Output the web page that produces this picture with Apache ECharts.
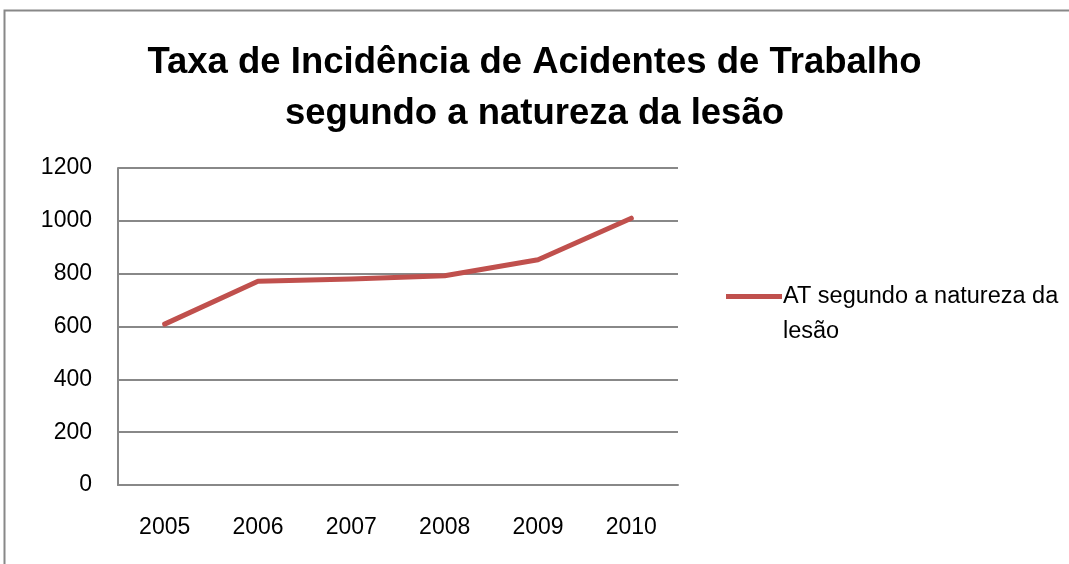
<!DOCTYPE html>
<html>
<head>
<meta charset="utf-8">
<script src="https://cdn.jsdelivr.net/npm/echarts@6/dist/echarts.min.js"></script>
<style>
html,body{margin:0;padding:0;background:#fff;}
#chart{width:1069px;height:564px;}
</style>
</head>
<body>
<div id="chart"></div>
<script>
const titleText = 'Taxa de Incidência de Acidentes de Trabalho\nsegundo a natureza da lesão';
const categories = ['2005', '2006', '2007', '2008', '2009', '2010'];
const seriesName = 'AT segundo a natureza da lesão';
const values = [609, 771, 780, 792, 853, 1010];
const yTicks = { min: 0, max: 1200, interval: 200 };

const chart = echarts.init(document.getElementById('chart'), null, { renderer: 'canvas' });
const font = 'Liberation Sans';
chart.setOption({
  backgroundColor: '#ffffff',
  animation: false,
  graphic: [{
    type: 'rect',
    shape: { x: 4.5, y: 10.5, width: 1100, height: 600 },
    style: { fill: 'none', stroke: '#888888', lineWidth: 2 },
    silent: true
  }],
  title: {
    text: titleText,
    left: 'center',
    top: 32,
    textStyle: { fontFamily: font, fontWeight: 'bold', fontSize: 36.5, lineHeight: 51, color: '#000' }
  },
  legend: {
    orient: 'vertical',
    left: 721,
    top: 239,
    itemWidth: 56,
    itemHeight: 5,
    itemGap: 0,
    icon: 'rect',
    textStyle: { fontFamily: font, fontSize: 23.5, lineHeight: 35, color: '#000', padding: [0,0,0,-4] },
    formatter: function (name) {
      const i = name.lastIndexOf(' ');
      return '\n' + name.slice(0, i) + '\n' + name.slice(i + 1);
    },
    data: [seriesName]
  },
  grid: { left: 118, right: 391, top: 168, bottom: 79 },
  xAxis: {
    type: 'category',
    data: categories,
    boundaryGap: true,
    axisLine: { show: true, lineStyle: { color: '#888888', width: 2 } },
    axisTick: { show: false },
    axisLabel: { fontFamily: font, fontSize: 23, color: '#000', margin: 31 }
  },
  yAxis: {
    type: 'value',
    min: yTicks.min,
    max: yTicks.max,
    interval: yTicks.interval,
    axisLine: { show: true, lineStyle: { color: '#888888', width: 2 } },
    axisTick: { show: false },
    splitLine: { lineStyle: { color: '#888888', width: 2 } },
    axisLabel: { fontFamily: font, fontSize: 23, color: '#000', margin: 26, formatter: function (v) { return String(v); } }
  },
  series: [{
    name: seriesName,
    type: 'line',
    data: values,
    symbol: 'none',
    lineStyle: { color: '#C0504D', width: 5, cap: 'round', join: 'round' },
    itemStyle: { color: '#C0504D' }
  }]
});
</script>
</body>
</html>
